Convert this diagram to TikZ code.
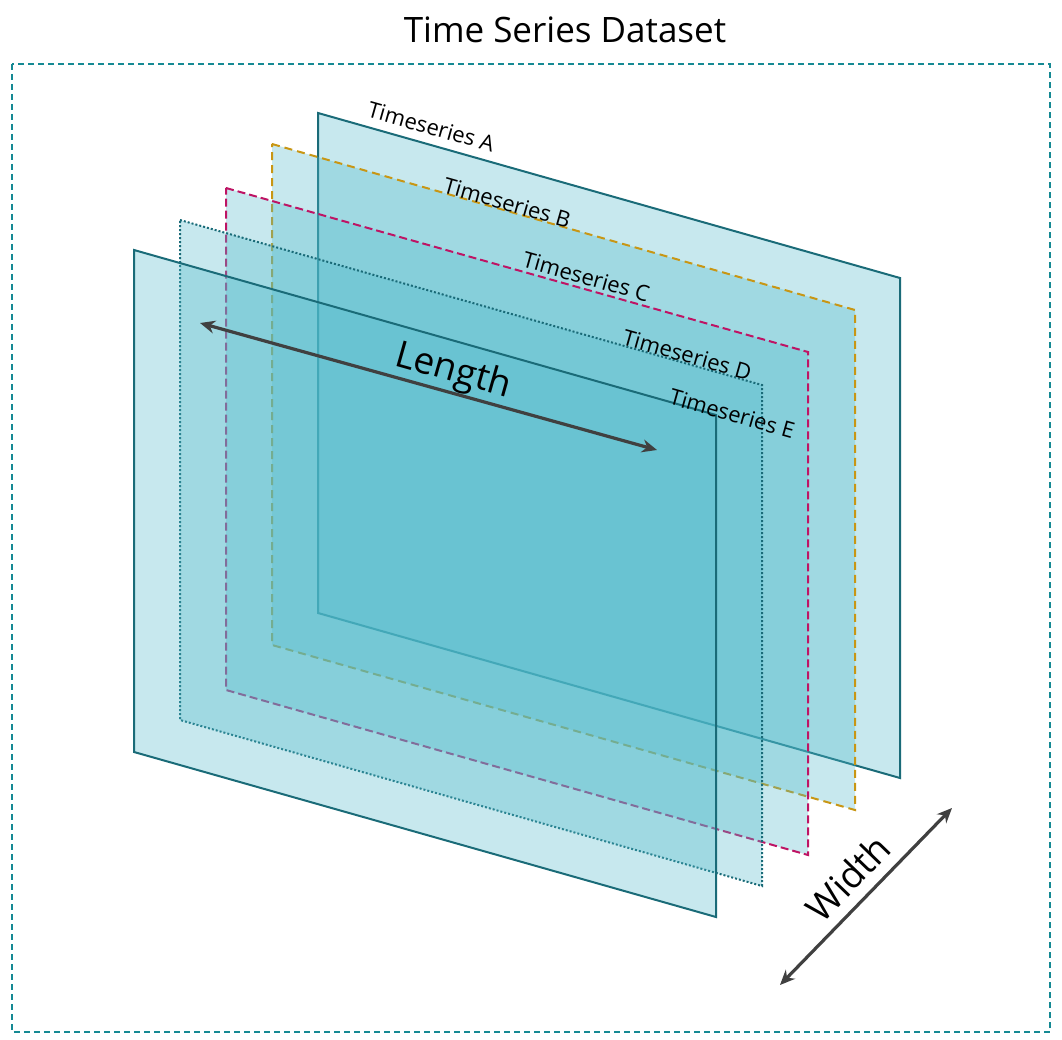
\documentclass[tikz,border=0pt]{standalone}
\usepackage{fontspec}
\setmainfont{Open Sans}
\usetikzlibrary{arrows.meta}
\begin{document}
\begin{tikzpicture}[x=1pt,y=-1pt,
  panel/.style={fill={rgb,255:red,80;green,185;blue,202},fill opacity=0.32,line width=2pt,line join=miter},
  lab/.style={font=\fontsize{22}{26}\selectfont,rotate=-15.8,anchor=south},
  big/.style={font=\fontsize{37}{42}\selectfont},
  arr/.style={<->,>={Stealth[length=15pt,width=13pt]},line width=3.2pt,draw={rgb,255:red,64;green,64;blue,64}}]
\definecolor{teal1}{RGB}{26,107,120}
\definecolor{gold}{RGB}{200,150,20}
\definecolor{mag}{RGB}{190,20,100}
\useasboundingbox (0,0) rectangle (1062,1040);
\node[font=\fontsize{35}{40}\selectfont] (title) at (565,30) {Time Series Dataset};
\draw[teal1!80!cyan,line width=1.5pt,dash pattern=on 6pt off 4pt] (12,64) rectangle (1050,1032);
\draw[panel,draw=teal1] (318,113) -- (900,278) -- (900,778) -- (318,613) -- cycle;
\draw[panel,draw=gold,dash pattern=on 8pt off 5pt] (272,144) -- (855,310) -- (855,810) -- (272,645) -- cycle;
\draw[panel,draw=mag,dash pattern=on 8pt off 4pt] (226,188) -- (808,352) -- (808,855) -- (226,690) -- cycle;
\draw[panel,draw=teal1,dash pattern=on 2pt off 2pt] (180,220) -- (762,385) -- (762,886) -- (180,720) -- cycle;
\draw[panel,draw=teal1] (134,250) -- (716,415) -- (716,917) -- (134,752) -- cycle;
\node[lab] (la) at (428,138) {Timeseries A};
\node[lab] (lb) at (504,214) {Timeseries B};
\node[lab] (lc) at (583,288) {Timeseries C};
\node[lab] (ld) at (684,366) {Timeseries D};
\node[lab] (le) at (729,425) {Timeseries E};
\coordinate (l1) at (200,323); \coordinate (l2) at (657,450);
\draw[arr] (l1) -- (l2);
\node[big,rotate=-15.8] (len) at (453,372) {Length};
\coordinate (w1) at (780,985); \coordinate (w2) at (952,808);
\draw[arr] (w1) -- (w2);
\node[big,rotate=46] (wid) at (848,878) {Width};
\end{tikzpicture}
\end{document}
